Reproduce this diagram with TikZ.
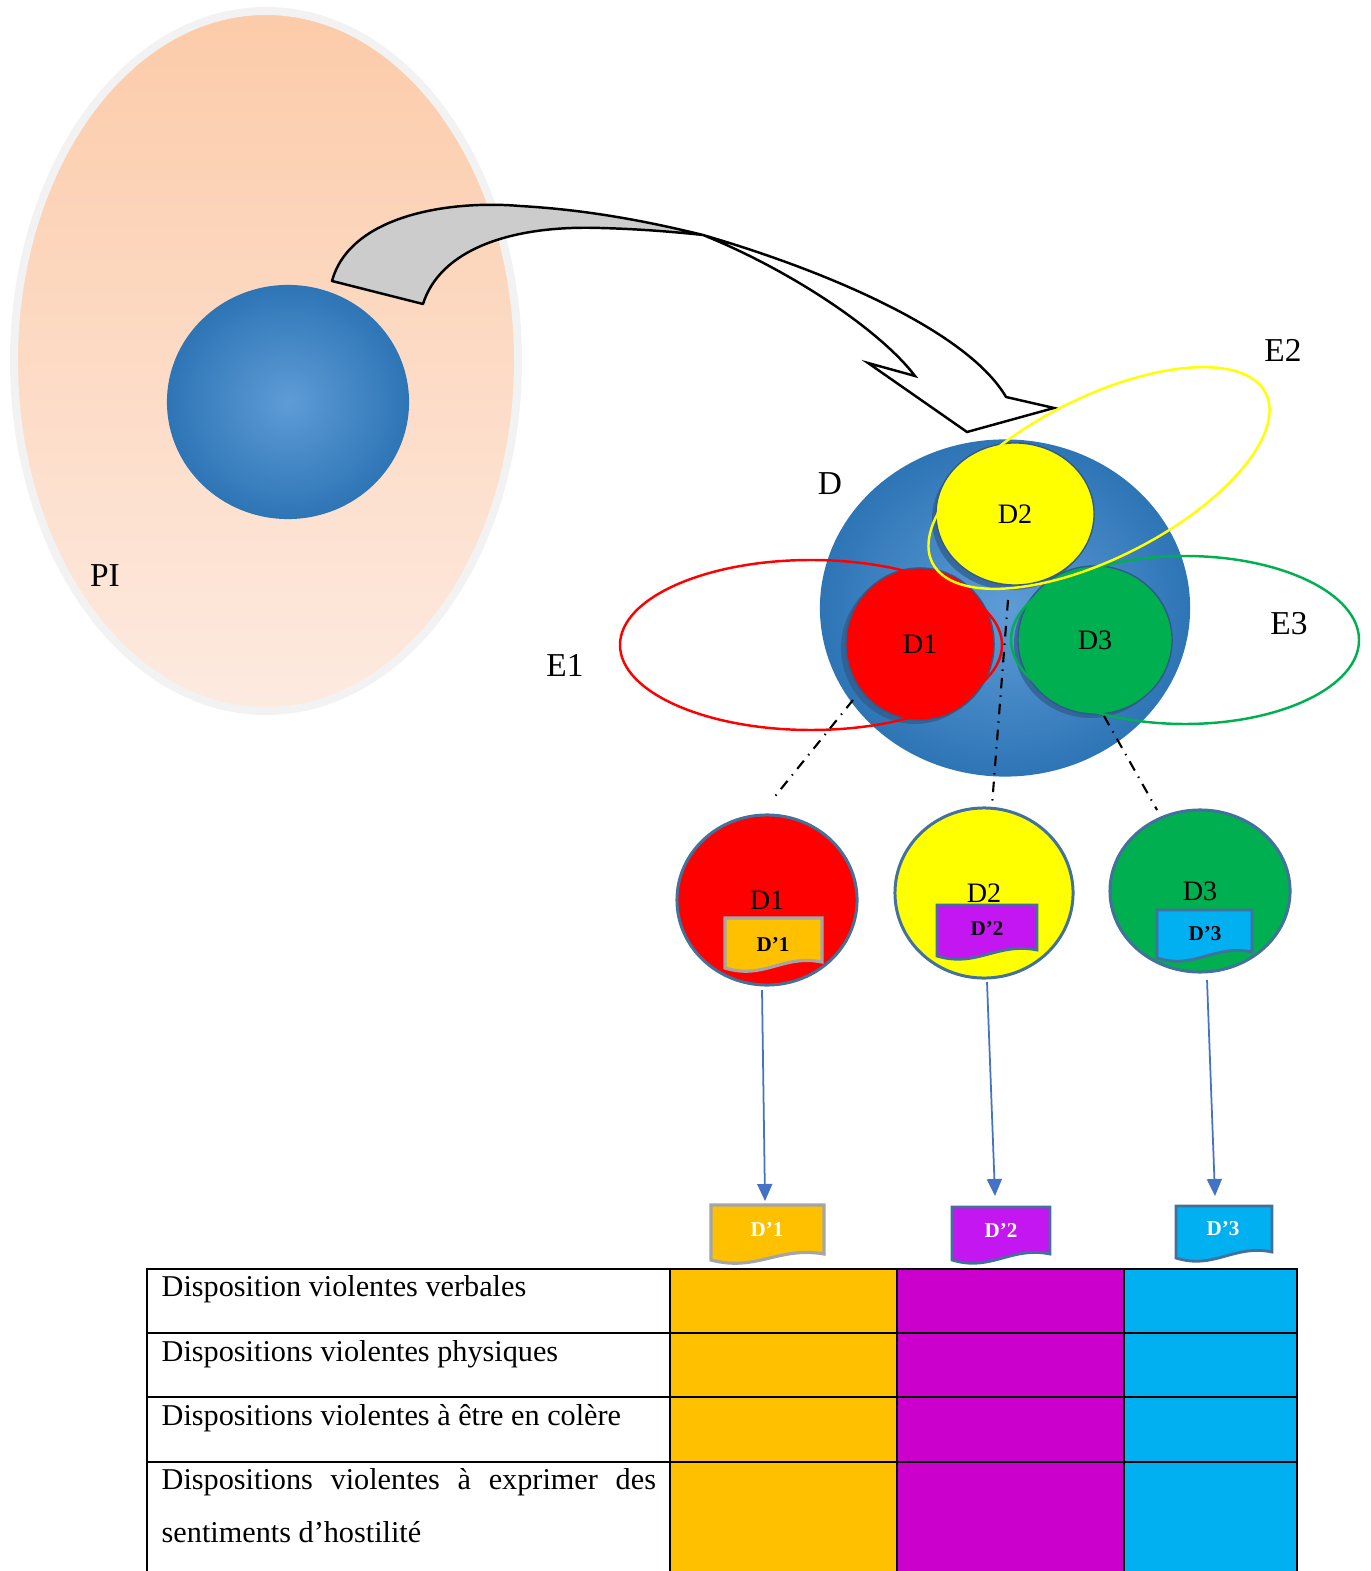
\documentclass[tikz,border=0pt]{standalone}
\usepackage{fontspec}
\setmainfont{Liberation Serif}
\usetikzlibrary{shapes.geometric,arrows.meta}
\definecolor{blueedge}{HTML}{2E75B6}
\definecolor{bluemid}{HTML}{5E9CD6}
\definecolor{peachtop}{HTML}{FCCBA9}
\definecolor{peachbot}{HTML}{FDEAE0}
\definecolor{rimgray}{HTML}{F2F2F2}
\definecolor{dred}{HTML}{FF0000}
\definecolor{dyellow}{HTML}{FFFF00}
\definecolor{dgreen}{HTML}{00B050}
\definecolor{dorange}{HTML}{FFC000}
\definecolor{dviolet}{HTML}{C416F0}
\definecolor{dmagenta}{HTML}{CC00CC}
\definecolor{dcyan}{HTML}{00B0F0}
\definecolor{docedge}{HTML}{41719C}
\definecolor{docgray}{HTML}{A5A5A5}
\definecolor{arrowblue}{HTML}{4472C4}
\definecolor{shadowblue}{HTML}{2F5A8A}
\def\docshape[#1](#2,#3)(#4,#5){\draw[#1] (#2,#3) -- (#4,#3) -- (#4,#5-8) .. controls ({#2+0.6*(#4-#2)},#5-16) and ({#2+0.4*(#4-#2)},#5+10) .. (#2,#5-2) -- cycle;}

\begin{document}
\begin{tikzpicture}[x=0.01cm,y=-0.01cm,
    lbl/.style={font=\fontsize{9.5}{11}\selectfont},
    blob/.style={ellipse,inner sep=0pt,inner color=bluemid,outer color=blueedge},
    part/.style={ellipse,inner sep=0pt,draw=shadowblue,line width=0.4pt,font=\fontsize{8}{9}\selectfont},
    sub/.style={ellipse,inner sep=0pt,draw=docedge,line width=0.85pt,font=\fontsize{8}{9}\selectfont},
    doclbl/.style={font=\bfseries\fontsize{6}{7}\selectfont,inner sep=0pt},
    ring/.style={line width=0.7pt},
    link/.style={dash dot,line width=0.6pt},
    flow/.style={arrowblue,line width=0.5pt,-{Triangle[length=0.17cm,width=0.15cm]}},
    cell/.style={font=\fontsize{8.6}{10}\selectfont,anchor=base west,inner sep=0pt}]
  \useasboundingbox (0,0) rectangle (1370,1571);

  %%%%% PI %%%%%
  \path[draw=rimgray,line width=0.08cm,top color=peachtop,bottom color=peachbot] (266,361) ellipse [x radius=252, y radius=350];
  \node[blob,minimum width=2.42cm,minimum height=2.34cm] (core) at (288,402) {};
  \node[lbl] (pi) at (105,576) {PI};

  %%%%% curved arrow %%%%%
  \draw[fill=black!20,line width=0.7pt,line join=round] (332,281) .. controls (350,215) and (450,200) .. (520,206) .. controls (590,210) and (650,222) .. (703,235) .. controls (675,232) and (640,229) .. (600,228) .. controls (510,225) and (440,250) .. (423,304) -- cycle;
  \draw[fill=white,line width=0.7pt] (703,235) .. controls (840,275) and (970,335) .. (1006,397) -- (1054,408) -- (967,432) -- (868,363) -- (915,376) .. controls (880,330) and (790,270) .. (703,235) -- cycle;

  %%%%% D %%%%%
  \node[blob,minimum width=3.70cm,minimum height=3.37cm] (disp) at (1005,608) {};
  \node[lbl] (dname) at (830,484) {D};

  \fill[shadowblue,opacity=0.7] (1011,519) ellipse [x radius=79, y radius=71];
  \fill[shadowblue,opacity=0.7] (915,648) ellipse [x radius=74, y radius=76];
  \fill[shadowblue,opacity=0.7] (1091,644) ellipse [x radius=77, y radius=74];
  \node[part,fill=dyellow,minimum width=1.58cm,minimum height=1.42cm] (d2) at (1015,514) {D2};
  \node[part,fill=dred,minimum width=1.48cm,minimum height=1.52cm] (d1) at (920,644) {D1};
  \node[part,fill=dgreen,minimum width=1.54cm,minimum height=1.48cm] (d3) at (1095,640) {D3};

  \draw[ring,dred] (811,645) ellipse [x radius=191, y radius=85];
  \draw[ring,dgreen] (1185,640) ellipse [x radius=174, y radius=84];
  \draw[ring,dyellow,rotate around={27:(1099,478)}] (1099,478) ellipse [x radius=187, y radius=80];
  \node[lbl] (e1) at (565,665) {E1};
  \node[lbl] (e2) at (1283,350) {E2};
  \node[lbl] (e3) at (1289,624) {E3};

  %%%%% split %%%%%
  \node[sub,fill=dred,minimum width=1.80cm,minimum height=1.70cm] (d1b) at (767,900) {D1};
  \node[sub,fill=dyellow,minimum width=1.78cm,minimum height=1.70cm] (d2b) at (984,893) {D2};
  \node[sub,fill=dgreen,minimum width=1.80cm,minimum height=1.62cm] (d3b) at (1200,891) {D3};

  \coordinate (s1) at (853,700);
  \coordinate (s2) at (1008,600);
  \coordinate (s3) at (1104,716);
  \coordinate (t1) at (772,800);
  \coordinate (t2) at (992,805);
  \coordinate (t3) at (1157,810);
  \draw[link] (s1) -- (t1);
  \draw[link] (s2) -- (t2);
  \draw[link] (s3) -- (t3);

  \docshape[fill=dorange,draw=docgray,line width=0.9pt](725,918)(822,970)
  \docshape[fill=dviolet,draw=docedge,line width=0.8pt](937,905)(1037,958)
  \docshape[fill=dcyan,draw=docedge,line width=0.8pt](1157,910)(1252,960)
  \node[doclbl] (p1) at (773,944) {D’1};
  \node[doclbl] (p2) at (987,929) {D’2};
  \node[doclbl] (p3) at (1205,934) {D’3};

  %%%%% arrows down %%%%%
  \coordinate (a1) at (762,990);
  \coordinate (b1) at (765,1201);
  \coordinate (a2) at (987,982);
  \coordinate (b2) at (995,1196);
  \coordinate (a3) at (1207,980);
  \coordinate (b3) at (1215,1196);
  \draw[flow] (a1) -- (b1);
  \draw[flow] (a2) -- (b2);
  \draw[flow] (a3) -- (b3);

  \docshape[fill=dorange,draw=docgray,line width=0.9pt](711,1205)(824,1262)
  \docshape[fill=dviolet,draw=docedge,line width=0.8pt](952,1207)(1050,1262)
  \docshape[fill=dcyan,draw=docedge,line width=0.8pt](1176,1206)(1272,1260)
  \node[doclbl,white] (q1) at (767,1229) {D’1};
  \node[doclbl,white] (q2) at (1001,1230) {D’2};
  \node[doclbl,white] (q3) at (1223,1229) {D’3};

  %%%%% table %%%%%
  \fill[dorange] (670,1269) rectangle (897,1571);
  \fill[dmagenta] (897,1269) rectangle (1124,1571);
  \fill[dcyan] (1124,1269) rectangle (1297,1571);
  \draw[line width=0.75pt] (147,1571) -- (147,1269) -- (1297,1269) -- (1297,1571);
  \foreach \y in {1333,1397,1462} \draw[line width=0.75pt] (147,\y) -- (1297,\y);
  \foreach \x in {670,897,1124} \draw[line width=0.75pt] (\x,1269) -- (\x,1571);

  \node[cell] (r1) at (161,1296) {Disposition violentes verbales};
  \node[cell] (r2) at (161,1361) {Dispositions violentes physiques};
  \node[cell] (r3) at (161,1425) {Dispositions violentes à être en colère};
  \node[cell] (r4) at (161,1489) {\makebox[4.94cm][s]{Dispositions violentes à exprimer des}};
  \node[cell] (r4b) at (161,1542) {sentiments d’hostilité};
\end{tikzpicture}
\end{document}
